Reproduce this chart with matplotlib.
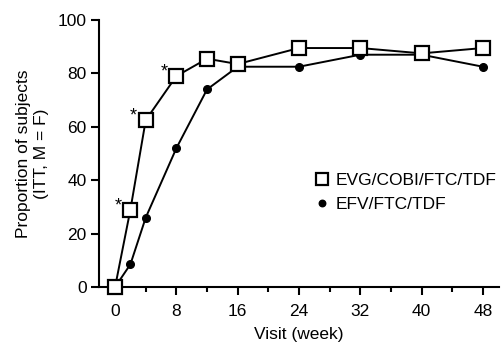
import matplotlib
matplotlib.use('Agg')
from matplotlib import pyplot

pyplot.rcParams['font.family'] = ['Liberation Sans', 'DejaVu Sans']

weeks = [0, 2, 4, 8, 12, 16, 24, 32, 40, 48]
evg = [0, 29, 62.5, 79, 85.5, 83.5, 89.5, 89.5, 87.5, 89.5]
efv = [0, 8.5, 26, 52, 74, 82.5, 82.5, 87, 87, 82.5]
star_weeks = [2, 4, 8]
star_vals = [29, 62.5, 79]

fig = pyplot.figure(figsize=(5.03, 3.45), dpi=100)
ax = fig.add_axes([99 / 503, 1 - 287 / 345, 400 / 503, 267 / 345])

ax.plot(weeks, efv, color='black', lw=1.4, marker='o', ms=5.5,
        mfc='black', mec='black', clip_on=False, label='EFV/FTC/TDF', zorder=3)
ax.plot(weeks, evg, color='black', lw=1.4, marker='s', ms=10.5,
        mfc='white', mec='black', mew=1.6, clip_on=False,
        label='EVG/COBI/FTC/TDF', zorder=4)

for w, v in zip(star_weeks, star_vals):
    ax.text(w - 1.6, v + 1.5, '*', fontsize=13, ha='center', va='center')

ax.set_xlim(-2.1, 50.1)
ax.set_ylim(0, 100)
ax.set_xticks([0, 8, 16, 24, 32, 40, 48])
ax.set_xticks(range(0, 49, 4), minor=True)
ax.set_yticks([0, 20, 40, 60, 80, 100])
ax.tick_params(labelsize=12.5, direction='out', length=6, width=1.5, pad=3)
ax.tick_params(axis='x', pad=6)
ax.tick_params(which='minor', length=3.5, width=1.5)
for s in ['top', 'right']:
    ax.spines[s].set_visible(False)
for s in ['left', 'bottom']:
    ax.spines[s].set_linewidth(1.5)

ax.set_xlabel('Visit (week)', fontsize=12.5, labelpad=6)
ax.set_ylabel('Proportion of subjects\n(ITT, M = F)', fontsize=12.5,
              labelpad=6, linespacing=1.3)

h, l = ax.get_legend_handles_labels()
leg = ax.legend(h[::-1], l[::-1], loc='center left',
                bbox_to_anchor=(0.5, 0.355), frameon=False, fontsize=12.5,
                handletextpad=0.3, handlelength=0.9, markerscale=0.85,
                labelspacing=0.5)
for line in leg.get_lines():
    line.set_linestyle('none')

pyplot.savefig('out.png', dpi=100)
